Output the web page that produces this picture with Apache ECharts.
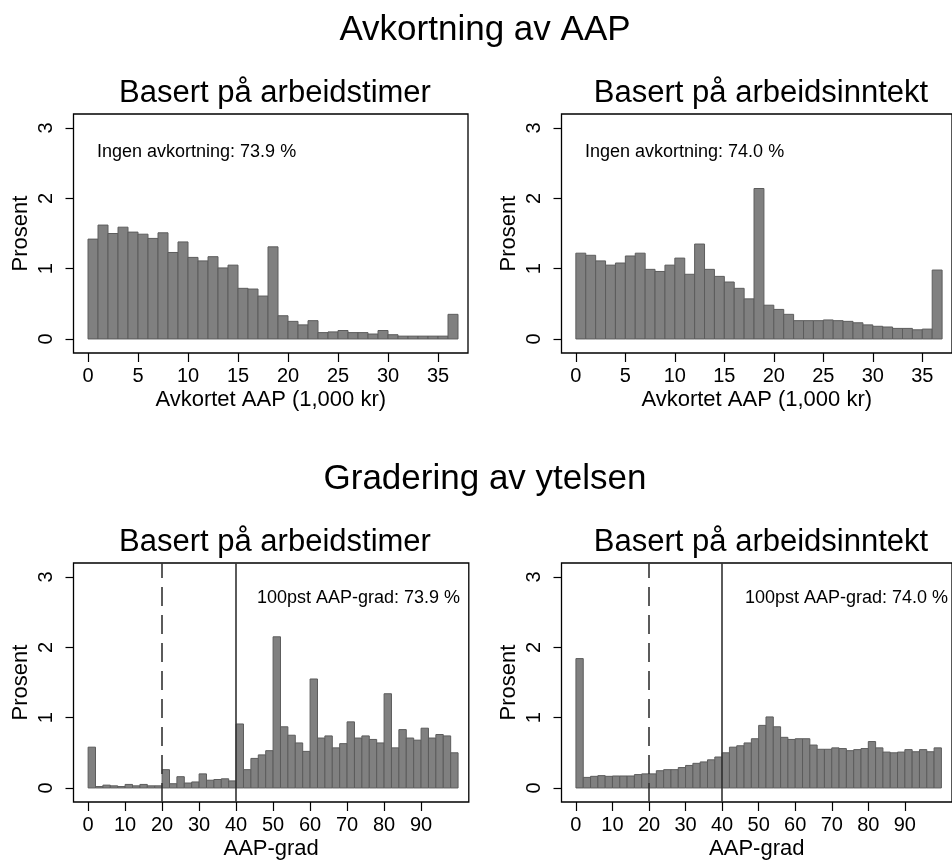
<!DOCTYPE html>
<html>
<head>
<meta charset="utf-8">
<script src="https://cdn.jsdelivr.net/npm/echarts@6/dist/echarts.min.js"></script>
<style>
html,body{margin:0;padding:0;background:#fff;}
#chart{width:952px;height:861px;}
</style>
</head>
<body>
<div id="chart"></div>
<script>
// Avkortning av AAP: bins of 1,000 kr (0..37)
const hoursCut = [1.42,1.62,1.50,1.59,1.52,1.49,1.43,1.51,1.23,1.38,1.16,1.11,1.17,1.01,1.05,0.72,0.71,0.61,1.31,0.33,0.25,0.20,0.26,0.09,0.10,0.12,0.09,0.09,0.07,0.12,0.06,0.04,0.04,0.04,0.04,0.04,0.35];
const incomeCut = [1.22,1.19,1.11,1.05,1.08,1.18,1.22,0.99,0.96,1.05,1.15,0.92,1.35,0.99,0.89,0.81,0.72,0.57,2.14,0.48,0.42,0.35,0.26,0.26,0.26,0.27,0.26,0.25,0.23,0.20,0.18,0.17,0.15,0.15,0.13,0.14,0.98];
// Gradering: bins of 2 percentage points (0..100)
const hoursGrad = [0.58,0.02,0.04,0.03,0.02,0.05,0.03,0.05,0.03,0.03,0.26,0.06,0.16,0.07,0.085,0.20,0.11,0.12,0.13,0.10,0.91,0.26,0.42,0.47,0.53,2.15,0.87,0.75,0.64,0.52,1.55,0.71,0.74,0.57,0.63,0.94,0.71,0.74,0.69,0.64,1.34,0.57,0.83,0.71,0.68,0.85,0.71,0.76,0.74,0.50];
const incomeGrad = [1.84,0.15,0.165,0.175,0.165,0.17,0.17,0.17,0.19,0.20,0.20,0.245,0.26,0.26,0.29,0.32,0.35,0.37,0.40,0.44,0.50,0.58,0.60,0.64,0.70,0.89,1.01,0.87,0.72,0.69,0.70,0.70,0.61,0.55,0.55,0.57,0.56,0.53,0.545,0.56,0.66,0.57,0.51,0.50,0.51,0.545,0.515,0.545,0.515,0.57];

const cutBinWidth = 1;
const gradBinWidth = 2;
const xTicksCut = [0,5,10,15,20,25,30,35];
const xTicksGrad = [0,10,20,30,40,50,60,70,80,90];
const yTicks = [0,1,2,3];
const refLines = {dashed: 20, solid: 40};

const mainTitles = ['Avkortning av AAP', 'Gradering av ytelsen'];
const subTitles = ['Basert på arbeidstimer', 'Basert på arbeidsinntekt'];
const xTitles = ['Avkortet AAP (1,000 kr)', 'AAP-grad'];
const yTitle = 'Prosent';
const notes = ['Ingen avkortning: 73.9 %', 'Ingen avkortning: 74.0 %', '100pst AAP-grad: 73.9 %', '100pst AAP-grad: 74.0 %'];

const FONT = "'Liberation Sans', Arial, Helvetica, sans-serif";

function toBins(vals, w){ return vals.map((v,i)=>[i*w, (i+1)*w, v]); }

function renderBar(params, api){
  const p0 = api.coord([api.value(0), 0]);
  const p1 = api.coord([api.value(1), api.value(2)]);
  return {type:'rect', shape:{x:p0[0], y:p1[1], width:p1[0]-p0[0], height:p0[1]-p1[1]},
    style:{fill:'#808080', stroke:'#5c5c5c', lineWidth:1}};
}

const grids = [
  {left:73.5, top:114, width:394.5, height:239},
  {left:561.5, top:114, width:394.5, height:239},
  {left:73.5, top:563, width:395.3, height:239},
  {left:561.5, top:563, width:395.3, height:239}
].map(g=>Object.assign({show:true, borderColor:'#000', borderWidth:1.3, backgroundColor:'#fff', containLabel:false}, g));

function xAxis(i, lower){
  return {type:'value', gridIndex:i,
    min: lower ? -3.95 : -1.45, max: lower ? 102.9 : 38.0,
    axisLine:{show:false, onZero:false}, splitLine:{show:false},
    axisTick:{show:true, length:9, inside:false, customValues: lower ? xTicksGrad : xTicksCut, lineStyle:{color:'#000', width:1.2}},
    axisLabel:{show:true, margin:13, customValues: lower ? xTicksGrad : xTicksCut, fontSize:20, color:'#000', fontFamily:FONT},
    name: lower ? xTitles[1] : xTitles[0], nameLocation:'middle', nameGap:36, nameMoveOverlap:false,
    nameTextStyle:{fontSize:22, color:'#000', fontFamily:FONT}};
}
function yAxis(i){
  return {type:'value', gridIndex:i, min:-0.2, max:3.2,
    axisLine:{show:false, onZero:false}, splitLine:{show:false},
    axisTick:{show:true, length:8, customValues:yTicks, lineStyle:{color:'#000', width:1.2}},
    axisLabel:{show:true, rotate:90, margin:17, customValues:yTicks, fontSize:20, color:'#000', fontFamily:FONT},
    name:yTitle, nameLocation:'middle', nameGap:42, nameRotate:90, nameMoveOverlap:false,
    nameTextStyle:{fontSize:22, color:'#000', fontFamily:FONT}};
}

const gradMarkLine = {silent:true, symbol:['none','none'], label:{show:false},
  data:[
    {xAxis:refLines.dashed, lineStyle:{type:[19,9], color:'#333', width:1.6}},
    {xAxis:refLines.solid, lineStyle:{type:'solid', color:'#333', width:1.6}}
  ]};

const series = [
  {type:'custom', xAxisIndex:0, yAxisIndex:0, renderItem:renderBar, data:toBins(hoursCut, cutBinWidth)},
  {type:'custom', xAxisIndex:1, yAxisIndex:1, renderItem:renderBar, data:toBins(incomeCut, cutBinWidth)},
  {type:'custom', xAxisIndex:2, yAxisIndex:2, renderItem:renderBar, data:toBins(hoursGrad, gradBinWidth), markLine:gradMarkLine},
  {type:'custom', xAxisIndex:3, yAxisIndex:3, renderItem:renderBar, data:toBins(incomeGrad, gradBinWidth), markLine:gradMarkLine}
];

function txt(s, x, y, size, align){
  return {type:'text', x:x, y:y, z:100, style:{text:s, fontSize:size, fontFamily:FONT, fill:'#000', align:align||'center', verticalAlign:'middle'}};
}

const graphic = [
  txt(mainTitles[0], 485, 30, 35),
  txt(subTitles[0], 275, 93, 31),
  txt(subTitles[1], 761, 93, 31),
  txt(mainTitles[1], 485, 479, 35),
  txt(subTitles[0], 275, 542, 31),
  txt(subTitles[1], 761, 542, 31),
  txt(notes[0], 97, 152, 18, 'left'),
  txt(notes[1], 585, 152, 18, 'left'),
  txt(notes[2], 460, 598, 18, 'right'),
  txt(notes[3], 948, 598, 18, 'right')
];

const chart = echarts.init(document.getElementById('chart'), null, {renderer:'canvas'});
chart.setOption({
  backgroundColor:'#fff',
  animation:false,
  grid:grids,
  xAxis:[xAxis(0,false), xAxis(1,false), xAxis(2,true), xAxis(3,true)],
  yAxis:[yAxis(0), yAxis(1), yAxis(2), yAxis(3)],
  series:series,
  graphic:graphic
});
</script>
</body>
</html>
